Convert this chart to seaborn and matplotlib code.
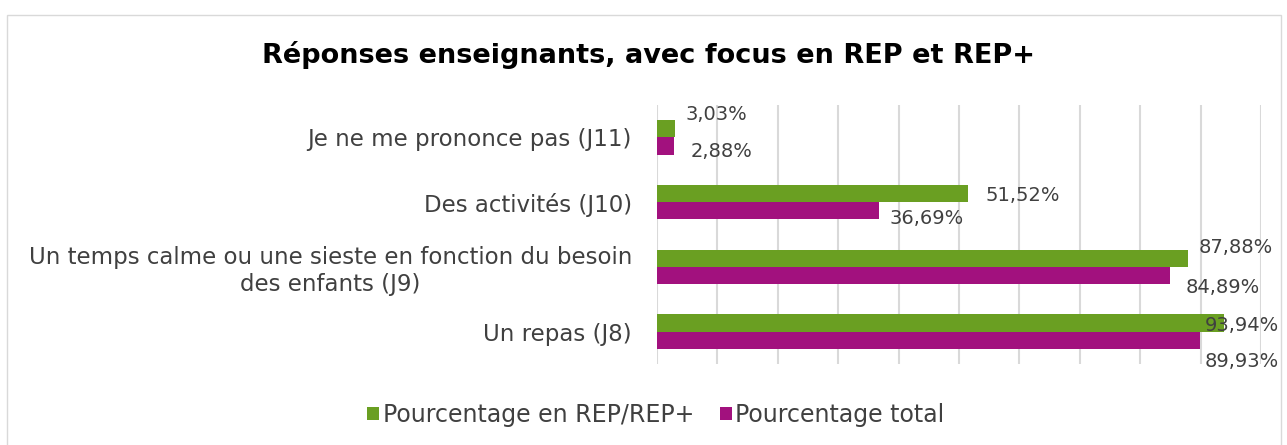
import matplotlib
matplotlib.use("Agg")
import matplotlib.pyplot as plt
import seaborn as sns
import pandas as pd
from matplotlib.patches import Rectangle

# ---- data ----
categories = [
    "Je ne me prononce pas (J11)",
    "Des activités (J10)",
    "Un temps calme ou une sieste en fonction du besoin\ndes enfants (J9)",
    "Un repas (J8)",
]
series_names = ["Pourcentage en REP/REP+", "Pourcentage total"]
rep_values = [3.03, 51.52, 87.88, 93.94]
total_values = [2.88, 36.69, 84.89, 89.93]
x_ticks = [0, 10, 20, 30, 40, 50, 60, 70, 80, 90, 100]
title = "Réponses enseignants, avec focus en REP et REP+"

# label offsets (pixels: dx, dy with positive dy = downwards), styling only
rep_label_offsets = [(10, -14), (17, 2), (11, -11), (-20, 2)]
total_label_offsets = [(16, 6), (11, 8), (16, 12), (4, 21)]

colors = ["#6A9F22", "#A2117E"]
text_color = "#404040"

df = pd.DataFrame({
    "category": categories * 2,
    "value": rep_values + total_values,
    "series": [series_names[0]] * len(categories) + [series_names[1]] * len(categories),
})

sns.set_theme(style="white")
plt.rcParams["font.family"] = ["DejaVu Sans"]

W, H = 1287, 445
fig = plt.figure(figsize=(W / 100, H / 100), dpi=100)
ax = fig.add_axes([657 / W, 1 - 364 / H, (1261 - 657) / W, (364 - 105) / H])

sns.barplot(data=df, y="category", x="value", hue="series", hue_order=series_names,
            order=categories, palette=colors, orient="h", width=0.53, gap=0,
            saturation=1, linewidth=0, ax=ax, legend=True)

ax.set_xlim(0, 100)
ax.set_xticks(x_ticks)
ax.set_xticklabels([])
ax.tick_params(axis="x", length=0)
ax.tick_params(axis="y", length=0, pad=18)
ax.grid(axis="x", color="#d9d9d9", linewidth=1.5)
ax.set_axisbelow(True)
for s in ["top", "right", "bottom", "left"]:
    ax.spines[s].set_visible(False)
ax.set_xlabel("")
ax.set_ylabel("")
for lbl in ax.get_yticklabels():
    lbl.set_multialignment("center")
    lbl.set_fontsize(16.5)
    lbl.set_color(text_color)

# data labels
for cont, vals, offs in zip(ax.containers, [rep_values, total_values],
                            [rep_label_offsets, total_label_offsets]):
    for bar, v, (dx, dy) in zip(cont, vals, offs):
        y = bar.get_y() + bar.get_height() / 2
        ax.annotate(f"{v:.2f}".replace(".", ",") + "%", xy=(bar.get_width(), y),
                    xytext=(dx * 0.72, -dy * 0.72), textcoords="offset points",
                    ha="left", va="center", fontsize=14, color=text_color,
                    annotation_clip=False)

# legend
handles, labels = ax.get_legend_handles_labels()
ax.get_legend().remove()
fig.legend(handles, labels, loc="center", bbox_to_anchor=(656 / W, 1 - 415 / H),
           ncol=2, frameon=False, fontsize=17, handlelength=0.5, handleheight=0.5,
           handletextpad=0.15, columnspacing=1.1, labelcolor=text_color)

fig.suptitle(title, x=649 / W, y=1 - 55 / H, va="center", fontsize=19.5,
             fontweight="bold", color="black")

fig.patches.append(Rectangle((7 / W, -0.1), (1281 - 7) / W, 1.1 - 15 / H,
                             transform=fig.transFigure, fill=False,
                             edgecolor="#d9d9d9", linewidth=1))

fig.savefig("out.png", dpi=100, facecolor="white")
